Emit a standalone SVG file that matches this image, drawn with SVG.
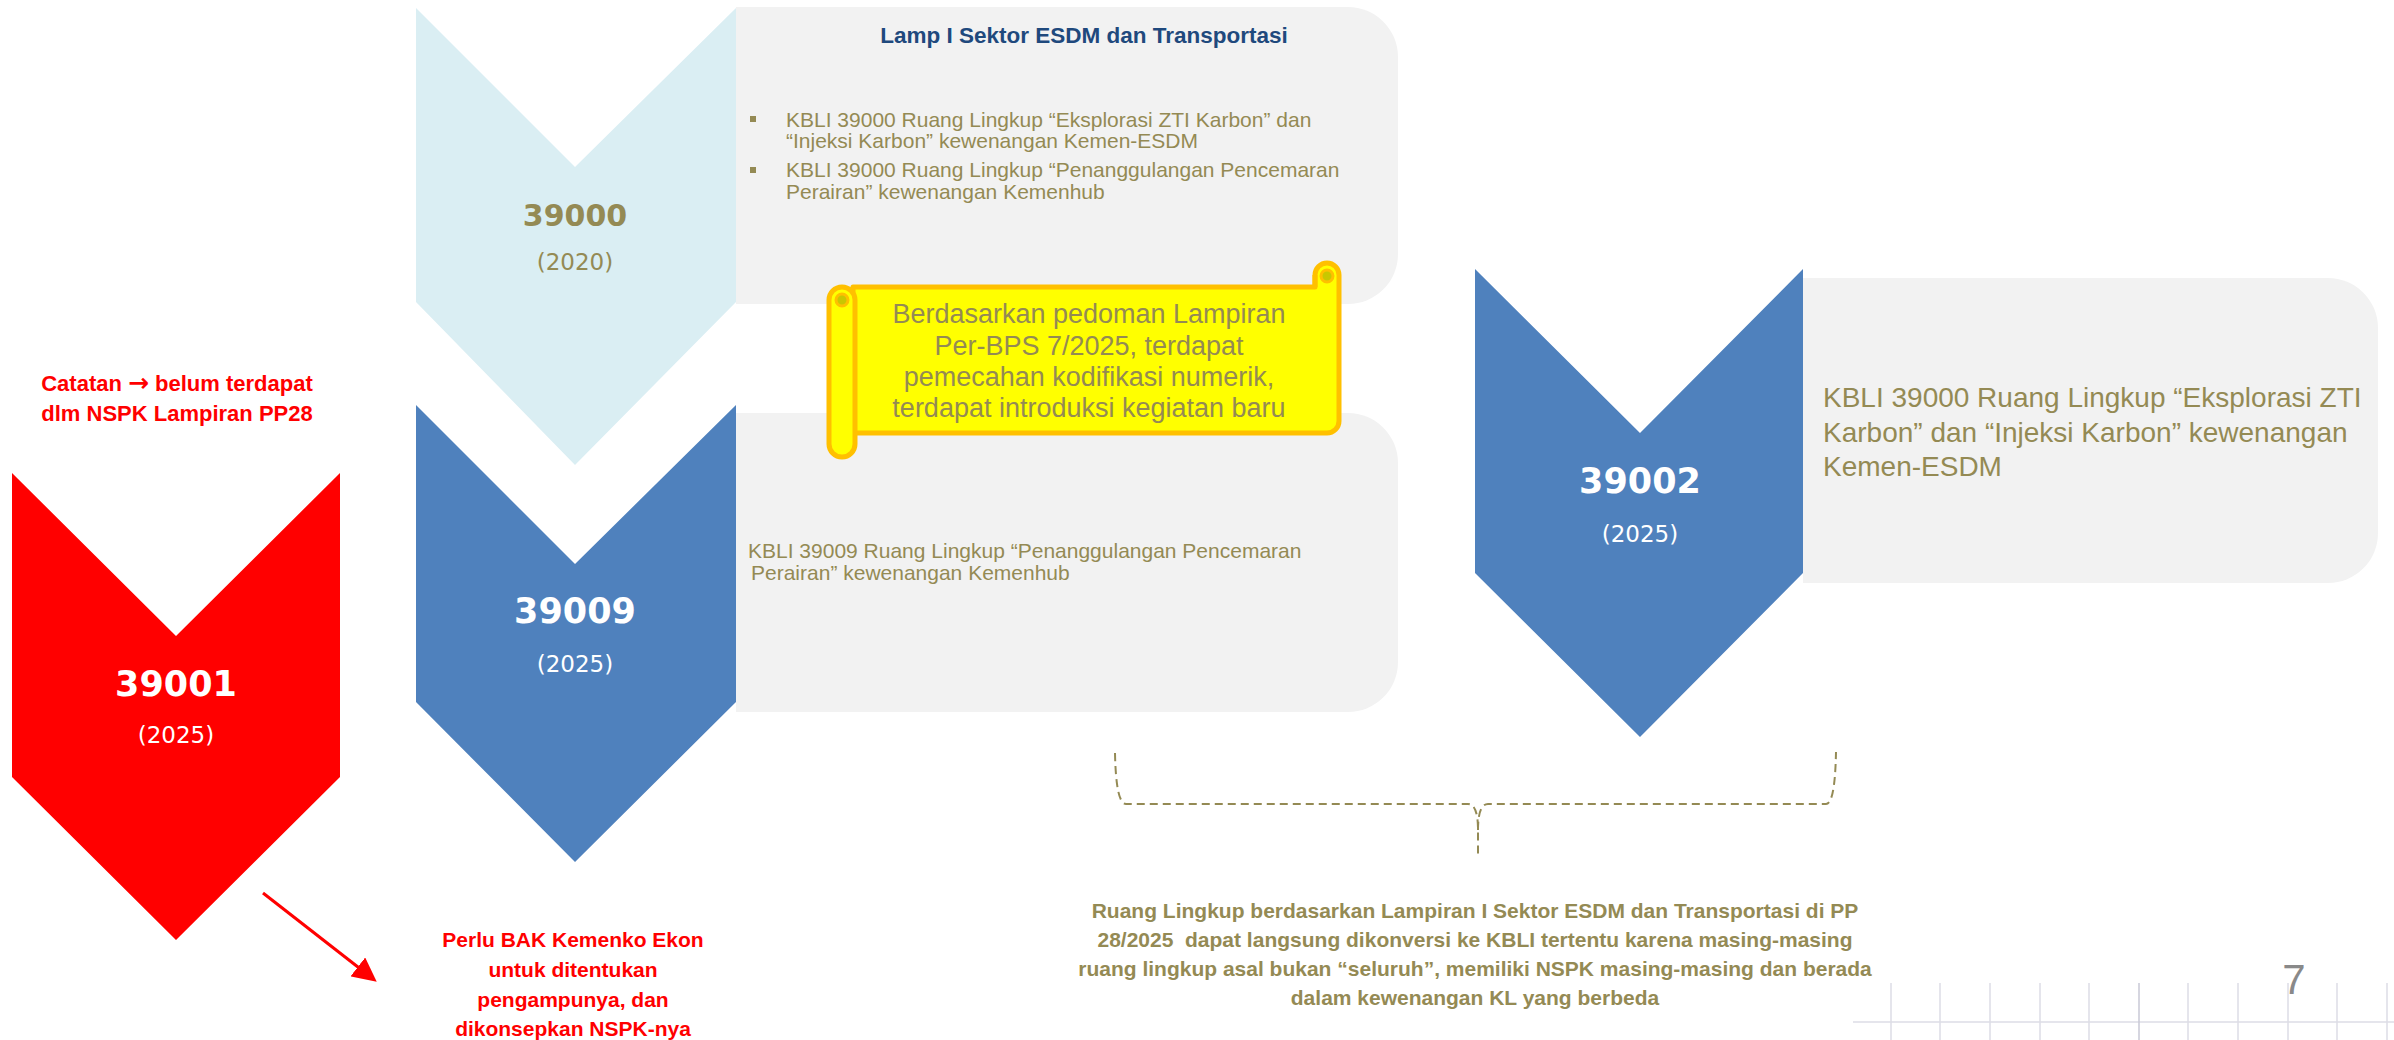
<svg xmlns="http://www.w3.org/2000/svg" width="2394" height="1040" viewBox="0 0 2394 1040">
<style>
.panel{fill:#F2F2F2}
.body{font-family:"Liberation Sans",Arial,sans-serif;fill:#948A54}
.num{font-family:"DejaVu Sans",Verdana,sans-serif;font-weight:bold;text-anchor:middle}
.yr{font-family:"DejaVu Sans",Verdana,sans-serif;font-size:23px;text-anchor:middle}
.red{font-family:"Liberation Sans",Arial,sans-serif;font-weight:bold;fill:#FF0000;text-anchor:middle}
.note{font-family:"Liberation Sans",Arial,sans-serif;font-weight:bold;fill:#948A54;font-size:21px;text-anchor:middle;white-space:pre}
.scr{fill:#FFFF00;stroke:#FFC000;stroke-width:5;stroke-linejoin:round}
.grid{stroke:#DCDCE6;stroke-width:1.5}
</style>
<defs>
<marker id="ah" markerWidth="8" markerHeight="8" refX="6" refY="4" orient="auto" markerUnits="strokeWidth">
<path d="M0,0 L8,4 L0,8 Z" fill="#FF0000"/>
</marker>
</defs>
<rect width="2394" height="1040" fill="#FFFFFF"/>

<g id="panel-top">
<path class="panel" d="M736,7 H1348 A50,50 0 0 1 1398,57 V254 A50,50 0 0 1 1348,304 H736 Z"/>
<text class="body" x="1084" y="43" style="font-weight:bold;fill:#1F497D;font-size:22.5px;text-anchor:middle">Lamp I Sektor ESDM dan Transportasi</text>
<rect x="750" y="116" width="6" height="6" fill="#948A54"/>
<rect x="750" y="167" width="6" height="6" fill="#948A54"/>
<text class="body" font-size="21"><tspan x="786" y="127">KBLI 39000 Ruang Lingkup “Eksplorasi ZTI Karbon” dan</tspan><tspan x="786" y="148">“Injeksi Karbon” kewenangan Kemen-ESDM</tspan><tspan x="786" y="177">KBLI 39000 Ruang Lingkup “Penanggulangan Pencemaran</tspan><tspan x="786" y="199">Perairan” kewenangan Kemenhub</tspan></text>
</g>

<g id="panel-mid">
<path class="panel" d="M736,413 H1348 A50,50 0 0 1 1398,463 V662 A50,50 0 0 1 1348,712 H736 Z"/>
<text class="body" font-size="21"><tspan x="748" y="558">KBLI 39009 Ruang Lingkup “Penanggulangan Pencemaran</tspan><tspan x="751" y="580">Perairan” kewenangan Kemenhub</tspan></text>
</g>

<g id="panel-right">
<path class="panel" d="M1803,278 H2328 A50,50 0 0 1 2378,328 V533 A50,50 0 0 1 2328,583 H1803 Z"/>
<text class="body" font-size="28"><tspan x="1823" y="407">KBLI 39000 Ruang Lingkup “Eksplorasi ZTI</tspan><tspan x="1823" y="442">Karbon” dan “Injeksi Karbon” kewenangan</tspan><tspan x="1823" y="476">Kemen-ESDM</tspan></text>
</g>

<g id="node-39000">
<polygon points="416,8 575,167 736,8 736,302 575,465 416,302" fill="#DAEEF3"/>
<text class="num" x="575" y="226" font-size="30" fill="#948A54">39000</text>
<text class="yr" x="575" y="270" fill="#948A54">(2020)</text>
</g>

<g id="node-39009">
<polygon points="416,405 575,564 736,405 736,702 575,862 416,702" fill="#4F81BD"/>
<text class="num" x="575" y="623" font-size="35" fill="#FFFFFF">39009</text>
<text class="yr" x="575" y="672" fill="#FFFFFF">(2025)</text>
</g>

<g id="node-39001">
<polygon points="12,473 176,636 340,473 340,777 176,940 12,777" fill="#FF0000"/>
<text class="num" x="176" y="696" font-size="35" fill="#FFFFFF">39001</text>
<text class="yr" x="176" y="743" fill="#FFFFFF">(2025)</text>
</g>

<g id="node-39002">
<polygon points="1475,269 1640,433 1803,269 1803,573 1640,737 1475,573" fill="#4F81BD"/>
<text class="num" x="1640" y="493" font-size="35" fill="#FFFFFF">39002</text>
<text class="yr" x="1640" y="542" fill="#FFFFFF">(2025)</text>
</g>

<g id="scroll">
<path class="scr" d="M853,287 H1315 V275 A12,12 0 0 1 1339,275 V421 A12,12 0 0 1 1327,433 H853 Z"/>
<path d="M1315,287 V275" fill="none" stroke="#FFC000" stroke-width="5"/>
<circle cx="1327" cy="276" r="6" fill="#C8C800" stroke="#FFC000" stroke-width="3"/>
<rect class="scr" x="829" y="287" width="26" height="170" rx="13"/>
<circle cx="842" cy="300" r="6" fill="#C8C800" stroke="#FFC000" stroke-width="3"/>
<text class="body" font-size="27" text-anchor="middle"><tspan x="1089" y="323">Berdasarkan pedoman Lampiran</tspan><tspan x="1089" y="355">Per-BPS 7/2025, terdapat</tspan><tspan x="1089" y="386">pemecahan kodifikasi numerik,</tspan><tspan x="1089" y="417">terdapat introduksi kegiatan baru</tspan></text>
</g>

<g id="note-catatan">
<text class="red" font-size="22"><tspan x="177" y="391">Catatan <tspan font-family="DejaVu Sans, sans-serif" font-size="25">→</tspan> belum terdapat</tspan><tspan x="177" y="421">dlm NSPK Lampiran PP28</tspan></text>
</g>

<g id="note-perlu">
<text class="red" font-size="21"><tspan x="573" y="947">Perlu BAK Kemenko Ekon</tspan><tspan x="573" y="977">untuk ditentukan</tspan><tspan x="573" y="1007">pengampunya, dan</tspan><tspan x="573" y="1036">dikonsepkan NSPK-nya</tspan></text>
</g>

<g id="note-ruang">
<text class="note"><tspan x="1475" y="918">Ruang Lingkup berdasarkan Lampiran I Sektor ESDM dan Transportasi di PP</tspan><tspan x="1475" y="947">28/2025  dapat langsung dikonversi ke KBLI tertentu karena masing-masing</tspan><tspan x="1475" y="976">ruang lingkup asal bukan “seluruh”, memiliki NSPK masing-masing dan berada</tspan><tspan x="1475" y="1005">dalam kewenangan KL yang berbeda</tspan></text>
</g>

<g id="connectors">
<line x1="263" y1="893" x2="372" y2="978" stroke="#FF0000" stroke-width="3" marker-end="url(#ah)"/>
<path d="M1115,753 Q1116,804 1126,804 H1468 Q1478,804 1478,830 V858 M1478,830 Q1478,804 1488,804 H1826 Q1835,804 1836,752" fill="none" stroke="#948A54" stroke-width="2" stroke-dasharray="8,5"/>
</g>

<g id="footer">
<line class="grid" x1="1853" y1="1022" x2="2394" y2="1022"/>
<line class="grid" x1="1891" y1="983" x2="1891" y2="1040"/>
<line class="grid" x1="1940" y1="983" x2="1940" y2="1040"/>
<line class="grid" x1="1990" y1="983" x2="1990" y2="1040"/>
<line class="grid" x1="2040" y1="983" x2="2040" y2="1040"/>
<line class="grid" x1="2089" y1="983" x2="2089" y2="1040"/>
<line class="grid" x1="2139" y1="983" x2="2139" y2="1040" style="stroke:#C8C8D6"/>
<line class="grid" x1="2188" y1="983" x2="2188" y2="1040"/>
<line class="grid" x1="2238" y1="983" x2="2238" y2="1040"/>
<line class="grid" x1="2288" y1="983" x2="2288" y2="1040"/>
<line class="grid" x1="2337" y1="983" x2="2337" y2="1040"/>
<line class="grid" x1="2387" y1="983" x2="2387" y2="1040"/>
<text x="2294" y="994" font-family="Liberation Sans, Arial, sans-serif" font-size="42" fill="#898989" text-anchor="middle">7</text>
</g>
</svg>
